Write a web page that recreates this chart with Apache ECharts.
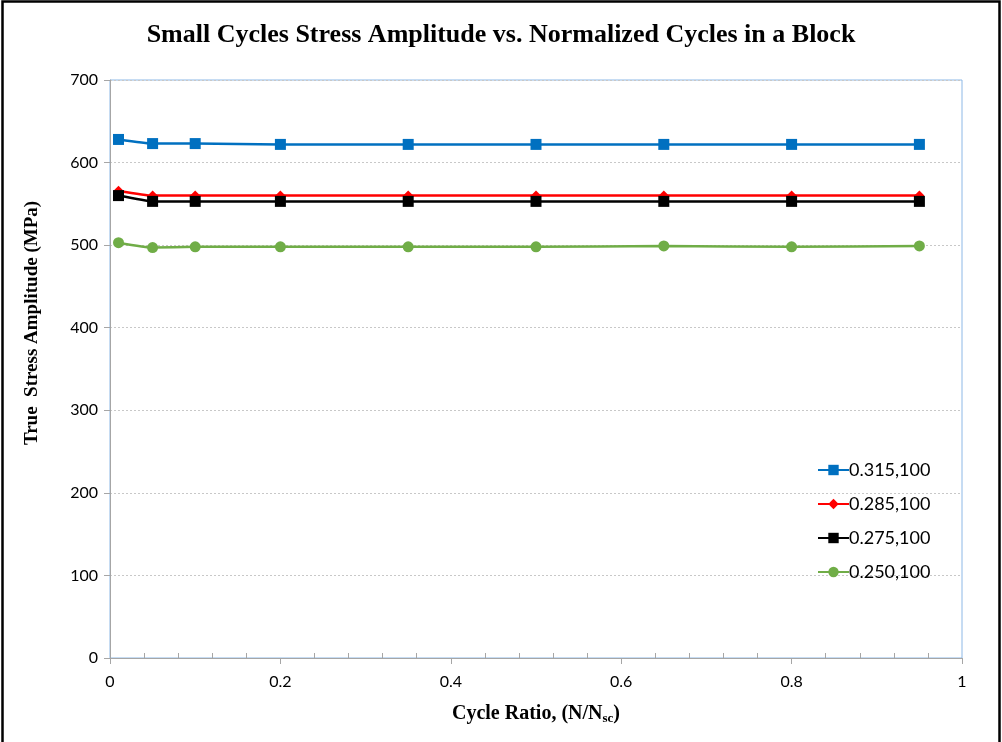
<!DOCTYPE html>
<html>
<head>
<meta charset="utf-8">
<style>
  html, body { margin: 0; padding: 0; background: #fff; }
  #chart { width: 1002px; height: 742px; }
</style>
<script src="https://cdn.jsdelivr.net/npm/echarts@6/dist/echarts.min.js"></script>
</head>
<body>
<div id="chart"></div>
<script>
// Normalized cycle positions within a block (N/Nsc)
const cycleRatio = [0.01, 0.05, 0.1, 0.2, 0.35, 0.5, 0.65, 0.8, 0.95];

// True stress amplitude (MPa) for each loading case
const s315 = [628, 623, 623, 622, 622, 622, 622, 622, 622];
const s285 = [566, 560, 560, 560, 560, 560, 560, 560, 560];
const s275 = [560, 553, 553, 553, 553, 553, 553, 553, 553];
const s250 = [503, 497, 498, 498, 498, 498, 499, 498, 499];

const seriesNames = ['0.315,100', '0.285,100', '0.275,100', '0.250,100'];
const seriesData = [s315, s285, s275, s250];
const seriesColors = ['#0070C0', '#FF0000', '#000000', '#70AD47'];
const seriesSymbols = ['rect', 'diamond', 'rect', 'circle'];
const symbolSizes = [11, 10, 11, 11];

const titleText = 'Small Cycles Stress Amplitude vs. Normalized Cycles in a Block';
const yTitle = 'True  Stress Amplitude (MPa)';

const serif = '"Liberation Serif", "DejaVu Serif", serif';
const sans = 'Lato, "Noto Sans", sans-serif';

const chart = echarts.init(document.getElementById('chart'), null, { renderer: 'canvas' });

const pair = (xs, ys) => xs.map((x, i) => [x, ys[i]]);

chart.setOption({
  animation: false,
  backgroundColor: '#fff',
  title: {
    text: titleText,
    left: 'center',
    top: 17,
    textStyle: { fontFamily: serif, fontWeight: 'bold', fontSize: 26, color: '#000' }
  },
  graphic: [
    {
      type: 'rect',
      shape: { x: 2.5, y: 1.5, width: 997, height: 800 },
      style: { fill: 'none', stroke: '#000', lineWidth: 2.5 },
      silent: true
    },
    {
      type: 'text',
      x: 32,
      y: 323,
      rotation: Math.PI / 2,
      style: {
        text: yTitle,
        fontFamily: serif,
        fontWeight: 'bold',
        fontSize: 19,
        fill: '#000',
        align: 'center',
        verticalAlign: 'middle'
      }
    }
  ],
  grid: {
    left: 110,
    right: 40,
    top: 80,
    bottom: 84,
    show: true,
    borderColor: '#8DB8E6',
    borderWidth: 1,
    backgroundColor: '#fff'
  },
  legend: {
    orient: 'vertical',
    left: 812,
    top: 456,
    itemGap: 16,
    itemWidth: 31,
    itemHeight: 13,
    textStyle: { fontFamily: sans, fontSize: 18, color: '#000', padding: [0, 0, 0, -5] },
    data: seriesNames
  },
  xAxis: {
    type: 'value',
    min: 0,
    max: 1,
    interval: 0.2,
    name: '{a|Cycle Ratio, (N/N}{s|sc}{a|)}',
    nameLocation: 'middle',
    nameGap: 44,
    nameTextStyle: {
      rich: {
        a: { fontFamily: serif, fontWeight: 'bold', fontSize: 20, color: '#000' },
        s: { fontFamily: serif, fontWeight: 'bold', fontSize: 13, color: '#000', padding: [10, 0, 0, 0] }
      }
    },
    axisLine: { lineStyle: { color: '#A6A6A6', width: 1 } },
    axisTick: { show: true, length: 6, lineStyle: { color: '#A6A6A6' } },
    minorTick: { show: true, splitNumber: 5, length: -5, lineStyle: { color: '#A6A6A6' } },
    axisLabel: { fontFamily: sans, fontSize: 16, color: '#000', margin: 16 },
    splitLine: { show: false }
  },
  yAxis: {
    type: 'value',
    min: 0,
    max: 700,
    interval: 100,
    axisLine: { show: true, lineStyle: { color: '#A6A6A6', width: 1 } },
    axisTick: { show: true, length: 6, lineStyle: { color: '#A6A6A6' } },
    axisLabel: { fontFamily: sans, fontSize: 16, color: '#000', margin: 12 },
    splitLine: { show: true, lineStyle: { color: '#C8C8C8', type: [2, 2], width: 1 } }
  },
  series: seriesNames.map((name, i) => ({
    name,
    type: 'line',
    data: pair(cycleRatio, seriesData[i]),
    symbol: seriesSymbols[i],
    symbolSize: symbolSizes[i],
    smooth: 0.15,
    lineStyle: { color: seriesColors[i], width: 2.5 },
    itemStyle: { color: seriesColors[i] }
  }))
});
</script>
</body>
</html>
